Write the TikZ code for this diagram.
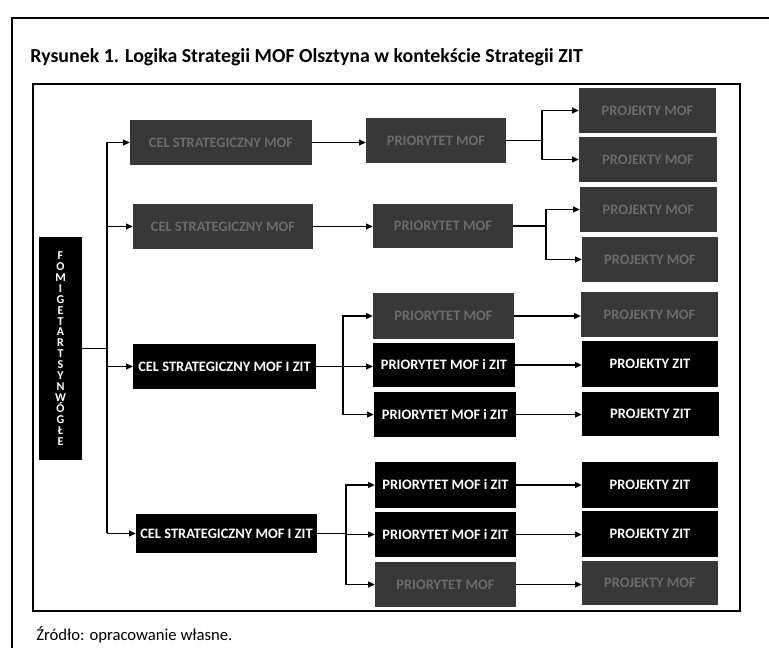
\documentclass[tikz,border=0pt]{standalone}
\usepackage{fontspec}
\setmainfont{Carlito}
\usetikzlibrary{arrows.meta}
\newcommand\bx[7]{\node[#1,minimum width={(#5-#3)*0.75pt},minimum height={(#6-#4)*0.75pt}] (#2) at ({(#3+#5)/2},{(#4+#6)/2}) {#7};}
\begin{document}
\begin{tikzpicture}[x=0.75pt,y=-0.75pt,
  blk/.style={fill=black,draw=none,inner sep=0pt,text=white,font=\bfseries\fontsize{10.8}{12}\selectfont},
  gry/.style={fill=black!78,draw=none,inner sep=0pt,text=black!58,font=\bfseries\fontsize{10.8}{12}\selectfont},
  arr/.style={line width=0.8pt,-{Triangle[length=5pt,width=4.5pt]}},
  ln/.style={line width=0.8pt},
]
\useasboundingbox (0,0) rectangle (769,648);
\fill[white] (0,0) rectangle (769,648);
% frames
\draw[line width=1.1pt] (12,648) -- (12,18) -- (769,18);
\draw[line width=2pt] (33,84) rectangle (740,611);
% texts
\node[anchor=base west,inner sep=0pt,font=\bfseries\fontsize{14.9}{17}\selectfont] (title) at (30,63) {Rysunek 1. Logika Strategii MOF Olsztyna w kontekście Strategii ZIT};
\node[anchor=base west,inner sep=0pt,font=\fontsize{12.5}{14}\selectfont] (src) at (36,641) {Źródło: opracowanie własne.};
% vertical box
\node[blk,minimum width={43*0.75pt},minimum height={223*0.75pt},align=center,font=\bfseries\fontsize{9}{8.2}\selectfont] (v) at (60.5,348.5) {F\\O\\M\\I\\G\\E\\T\\A\\R\\T\\S\\Y\\N\\W\\Ó\\G\\Ł\\E};
% column 1
\bx{gry}{c1}{130}{120}{312}{165}{CEL STRATEGICZNY MOF}
\bx{gry}{c2}{133}{204}{313}{249}{CEL STRATEGICZNY MOF}
\bx{blk}{c3}{133}{344}{316}{389}{CEL STRATEGICZNY MOF I ZIT}
\bx{blk}{c4}{136}{514}{317}{553}{CEL STRATEGICZNY MOF I ZIT}
% column 2
\bx{gry}{p1}{366}{118}{506}{163}{PRIORYTET MOF}
\bx{gry}{p2}{373}{204}{513}{248}{PRIORYTET MOF}
\bx{gry}{p3a}{373}{293}{514}{339}{PRIORYTET MOF}
\bx{blk}{p3b}{373}{343}{515}{387}{PRIORYTET MOF i ZIT}
\bx{blk}{p3c}{374}{392}{516}{437}{PRIORYTET MOF i ZIT}
\bx{blk}{p4a}{375}{462}{516}{508}{PRIORYTET MOF i ZIT}
\bx{blk}{p4b}{375}{512}{516}{557}{PRIORYTET MOF i ZIT}
\bx{gry}{p4c}{375}{562}{516}{607}{PRIORYTET MOF}
% column 3
\bx{gry}{r1a}{579}{88}{716}{133}{PROJEKTY MOF}
\bx{gry}{r1b}{579}{137}{717}{182}{PROJEKTY MOF}
\bx{gry}{r2a}{580}{187}{717}{232}{PROJEKTY MOF}
\bx{gry}{r2b}{582}{237}{718}{282}{PROJEKTY MOF}
\bx{gry}{r3a}{581}{292}{718}{337}{PROJEKTY MOF}
\bx{blk}{r3b}{582}{341}{718}{387}{PROJEKTY ZIT}
\bx{blk}{r3c}{582}{392}{719}{436}{PROJEKTY ZIT}
\bx{blk}{r4a}{582}{462}{718}{508}{PROJEKTY ZIT}
\bx{blk}{r4b}{582}{511}{718}{557}{PROJEKTY ZIT}
\bx{gry}{r4c}{582}{561}{718}{605}{PROJEKTY MOF}
% trunk
\coordinate (t0) at (107,348.5);
\coordinate (t1) at (107,142.5);
\coordinate (t2) at (107,226.5);
\coordinate (t3) at (107,366.5);
\coordinate (t4) at (107,533.5);
\draw[ln] (v.east) -- (t0);
\draw[ln] (t1) -- (t4);
\draw[arr] (t1) -- (c1.west);
\draw[arr] (t2) -- (c2.west);
\draw[arr] (t3) -- (c3.west);
\draw[arr] (t4) -- (c4.west);
% col1 -> col2
\draw[arr] (c1.east) -- (c1.east -| p1.west);
\draw[arr] (c2.east) -- (c2.east -| p2.west);
\draw[arr] (c3.east) -- (c3.east -| p3b.west);
\coordinate (f3) at (343,366.5);
\draw[arr] (f3) |- (p3a.west);
\draw[arr] (f3) |- (p3c.west);
\coordinate (f4) at (346,533.5);
\draw[ln] (c4.east) -- (f4);
\draw[arr] (f4) |- (p4a.west);
\draw[arr] (f4) |- (p4b.west);
\draw[arr] (f4) |- (p4c.west);
% col2 -> col3
\coordinate (f1) at (542,140.5);
\draw[ln] (p1.east) -- (f1);
\draw[arr] (f1) |- (r1a.west);
\draw[arr] (f1) |- (r1b.west);
\coordinate (f2) at (546,226);
\draw[ln] (p2.east) -- (f2);
\draw[arr] (f2) |- (r2a.west);
\draw[arr] (f2) |- (r2b.west);
\draw[arr] (p3a.east) -- (p3a.east -| r3a.west);
\draw[arr] (p3b.east) -- (p3b.east -| r3b.west);
\draw[arr] (p3c.east) -- (p3c.east -| r3c.west);
\draw[arr] (p4a.east) -- (p4a.east -| r4a.west);
\draw[arr] (p4b.east) -- (p4b.east -| r4b.west);
\draw[arr] (p4c.east) -- (p4c.east -| r4c.west);
\end{tikzpicture}
\end{document}
